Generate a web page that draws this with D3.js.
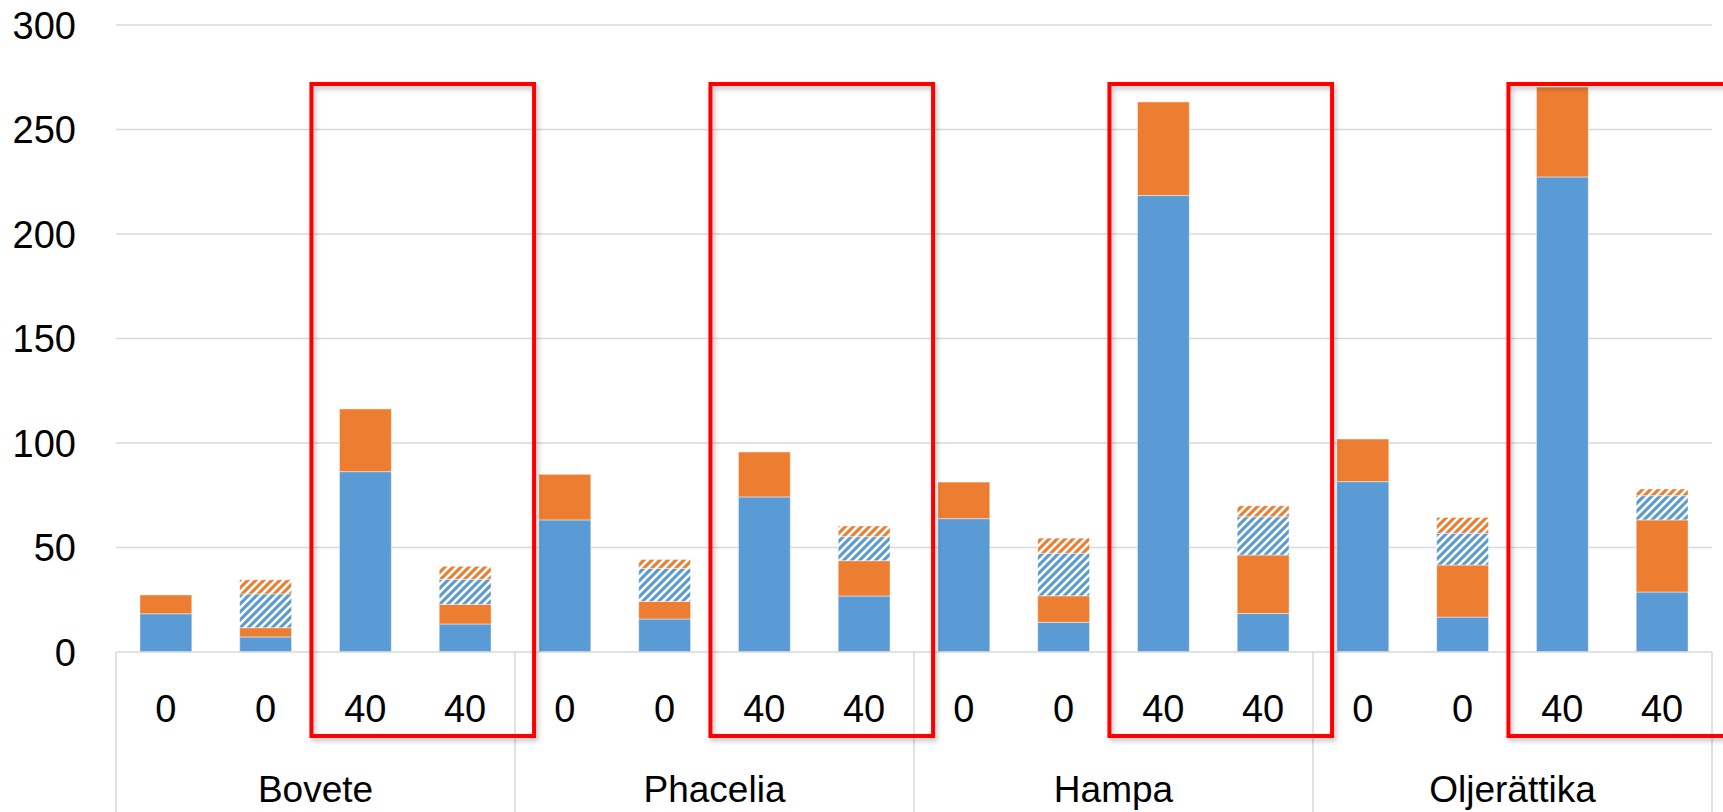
<!DOCTYPE html>
<html>
<head>
<meta charset="utf-8">
<script src="https://cdn.jsdelivr.net/npm/d3@7"></script>
<style>
  html, body { margin: 0; padding: 0; background: #fff; }
  svg { display: block; }
  text { font-family: "Liberation Sans", Arial, sans-serif; fill: #000; }
</style>
</head>
<body>
<svg id="chart" width="1723" height="812"></svg>
<script>
// ---- data ----
const groups = ["Bovete", "Phacelia", "Hampa", "Oljerättika"];
const subLabels = ["0", "0", "40", "40"];
const yTicks = [0, 50, 100, 150, 200, 250, 300];

// segment values per bar (16 bars, 4 per group)
const blueSolid   = [18.3, 7.2, 86.3, 13.4,  63.2, 15.8, 74.2, 26.8,  63.8, 14.2, 218.4, 18.4,  81.5, 16.7, 227.3, 28.7];
const orangeSolid = [9.0, 4.4, 30.0, 9.4,    21.8, 8.4, 21.5, 16.9,   17.5, 12.7, 44.8, 28.0,   20.4, 24.9, 43.0, 34.5];
const blueHatch   = [0, 16.2, 0, 12.0,       0, 15.8, 0, 11.5,        0, 20.3, 0, 18.3,         0, 15.2, 0, 11.6];
const orangeHatch = [0, 6.8, 0, 6.2,         0, 4.3, 0, 5.1,          0, 7.3, 0, 5.3,           0, 7.6, 0, 3.2];
const highlightedSub = [2, 3]; // the boxed "40" bars in each group

// ---- layout ----
const W = 1723, H = 812;
const plotLeft = 116, plotRight = 1712, plotTop = 25, plotBottom = 652;
const BLUE = "#5B9BD5", ORANGE = "#ED7D31";

const svg = d3.select("#chart");
const defs = svg.append("defs");

function hatch(id, color) {
  const p = defs.append("pattern").attr("id", id).attr("patternUnits", "userSpaceOnUse")
    .attr("width", 8).attr("height", 8);
  p.append("rect").attr("width", 8).attr("height", 8).attr("fill", color);
  p.append("path").attr("d", "M-2,10 L10,-2 M-2,2 L2,-2 M6,10 L10,6")
    .attr("stroke", "#fff").attr("stroke-width", 2.6);
}
hatch("hBlue", BLUE);
hatch("hOrange", ORANGE);

const f = defs.append("filter").attr("id", "shadow").attr("x", "-10%").attr("y", "-10%").attr("width", "120%").attr("height", "120%");
f.append("feDropShadow").attr("dx", 2).attr("dy", 3).attr("stdDeviation", 2.5)
  .attr("flood-color", "#000").attr("flood-opacity", 0.25);

const keys = [];
groups.forEach((g, gi) => subLabels.forEach((s, si) => keys.push(gi * 4 + si)));

const x = d3.scaleBand().domain(keys).range([plotLeft, plotRight]).paddingInner(0.48).paddingOuter(0.24);
const xg = d3.scaleBand().domain(groups).range([plotLeft, plotRight]);
const y = d3.scaleLinear().domain([0, 300]).range([plotBottom, plotTop]);

// gridlines
svg.append("g").selectAll("line").data(yTicks.filter(t => t > 0)).join("line")
  .attr("x1", plotLeft).attr("x2", plotRight)
  .attr("y1", d => y(d)).attr("y2", d => y(d))
  .attr("stroke", "#d9d9d9").attr("stroke-width", 1.5);

// y labels
svg.append("g").selectAll("text").data(yTicks).join("text")
  .attr("x", 76).attr("y", d => y(d) + 13.5)
  .attr("text-anchor", "end").attr("font-size", 38)
  .text(d => d);

// stacked bars
const seriesDefs = [
  { vals: blueSolid, fill: BLUE },
  { vals: orangeSolid, fill: ORANGE },
  { vals: blueHatch, fill: "url(#hBlue)" },
  { vals: orangeHatch, fill: "url(#hOrange)" }
];
const rows = keys.map(k => ({ k, a: blueSolid[k], b: orangeSolid[k], c: blueHatch[k], d: orangeHatch[k] }));
const stack = d3.stack().keys(["a", "b", "c", "d"])(rows);
const barG = svg.append("g");
stack.forEach((layer, li) => {
  barG.append("g").selectAll("rect").data(layer.filter(d => d[1] - d[0] > 0)).join("rect")
    .attr("x", d => x(d.data.k))
    .attr("width", x.bandwidth())
    .attr("y", d => y(d[1]))
    .attr("height", d => y(d[0]) - y(d[1]))
    .attr("fill", seriesDefs[li].fill)
    .attr("stroke", "rgba(255,255,255,0.45)").attr("stroke-width", 1);
});

// category axis lines
const axisG = svg.append("g").attr("stroke", "#d9d9d9").attr("stroke-width", 1.5);
axisG.append("line").attr("x1", plotLeft).attr("x2", plotRight).attr("y1", plotBottom).attr("y2", plotBottom);
const seps = groups.map(g => xg(g)).concat([plotRight]);
axisG.selectAll(".sep").data(seps).join("line")
  .attr("x1", d => d).attr("x2", d => d).attr("y1", plotBottom).attr("y2", H);

// sub labels
svg.append("g").selectAll("text").data(keys).join("text")
  .attr("x", k => x(k) + x.bandwidth() / 2).attr("y", 722)
  .attr("text-anchor", "middle").attr("font-size", 38)
  .text(k => subLabels[k % 4]);

// group labels
svg.append("g").selectAll("text").data(groups).join("text")
  .attr("x", g => xg(g) + xg.bandwidth() / 2).attr("y", 802)
  .attr("text-anchor", "middle").attr("font-size", 37)
  .text(g => g);

// red highlight boxes
const boxTop = 84, boxBottom = 736;
svg.append("g").selectAll("rect").data(groups).join("rect")
  .attr("x", (g, gi) => x(gi * 4 + highlightedSub[0]) - 28)
  .attr("y", boxTop)
  .attr("width", (g, gi) => (x(gi * 4 + highlightedSub[1]) + x.bandwidth() + 43) - (x(gi * 4 + highlightedSub[0]) - 28))
  .attr("height", boxBottom - boxTop)
  .attr("fill", "none").attr("stroke", "#ff0000").attr("stroke-width", 4)
  .attr("filter", "url(#shadow)");
</script>
</body>
</html>
